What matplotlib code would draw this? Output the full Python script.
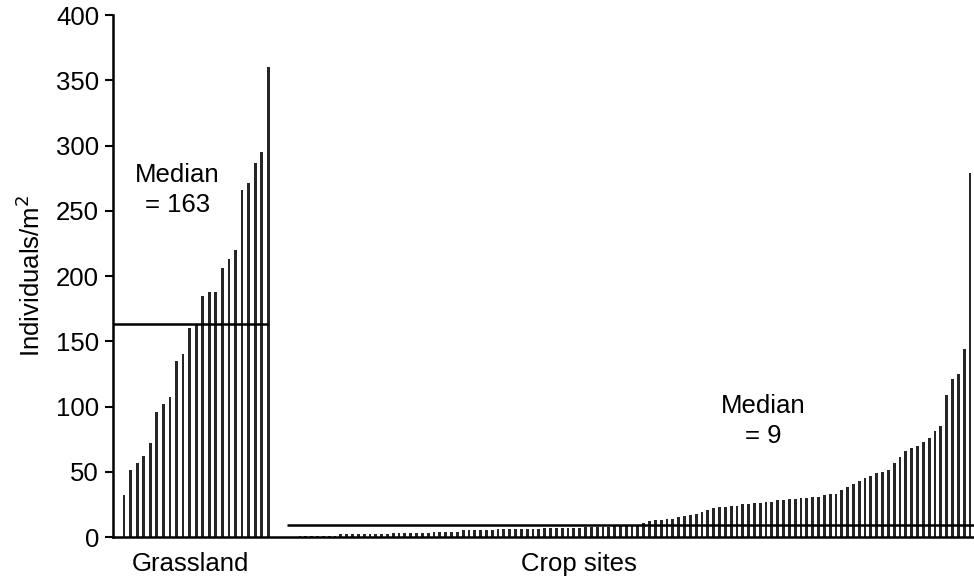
import matplotlib.pyplot as plt
import numpy as np

plt.rcParams["font.family"] = ["Liberation Sans", "DejaVu Sans"]

# individuals per m2, sorted ascending
grassland = [32, 51, 57, 62, 72, 96, 102, 107, 135, 140, 160, 163, 185, 188, 188,
             206, 213, 220, 266, 271, 287, 295, 360]
crop_sites = [1, 1, 1, 1, 1, 1, 1, 2, 2, 2,
              2, 2, 2, 2, 2, 2, 3, 3, 3, 3,
              3, 3, 3, 4, 4, 4, 4, 4, 5, 5,
              5, 5, 5, 5, 6, 6, 6, 6, 6, 6,
              6, 6, 7, 7, 7, 7, 7, 7, 7, 8,
              8, 8, 8, 8, 9, 9, 9, 9, 9, 11,
              12, 13, 13, 14, 14, 15, 16, 17, 18, 19,
              21, 22, 23, 23, 24, 24, 25, 25, 26, 26,
              27, 27, 28, 28, 29, 29, 30, 30, 31, 31,
              32, 33, 33, 36, 38, 41, 43, 45, 47,
              49, 50, 51, 57, 61, 66, 68, 70, 73, 76, 81, 85, 109, 121, 125, 144, 279]
group_labels = ["Grassland", "Crop sites"]
medians = [163, 9]

# layout (x in units of grassland bar spacing)
crop_start = 26.83
crop_step = 0.888
bar_w = 0.43
bar_color = "#262626"

x_grass = np.arange(len(grassland))
x_crop = crop_start + crop_step * np.arange(len(crop_sites))

fig = plt.figure(figsize=(9.74, 5.76), dpi=100)
ax = fig.add_axes([0.116, 0.0677, 0.884, 0.906])

ax.bar(x_grass, grassland, width=bar_w, color=bar_color, linewidth=0)
ax.bar(x_crop, crop_sites, width=bar_w, color=bar_color, linewidth=0)

xmin, xmax = -1.68, 129.57
ax.hlines(medians[0], xmin, x_grass[-1], color="black", lw=1.8)
ax.hlines(medians[1], 24.85, xmax, color="black", lw=1.8)

fs = 18.5
ax.text(8.1, 266, f"Median\n= {medians[0]}", ha="center", va="center",
        fontsize=fs, linespacing=1.3)
ax.text(97.4, 89, f"Median\n= {medians[1]}", ha="center", va="center",
        fontsize=fs, linespacing=1.3)

ax.set_xlim(xmin, xmax)
ax.set_ylim(0, 400)
ax.set_yticks(np.arange(0, 401, 50))
ax.set_xticks([10.06, 69.4])
ax.set_xticklabels(group_labels)
ax.tick_params(axis="x", length=0, pad=11, labelsize=fs)
ax.tick_params(axis="y", direction="out", length=6, width=1.5, pad=4, labelsize=fs)
ax.set_ylabel("Individuals/m$^2$", fontsize=fs, labelpad=8)

for side in ["top", "right"]:
    ax.spines[side].set_visible(False)
ax.spines["left"].set_linewidth(1.8)
ax.spines["bottom"].set_linewidth(1.8)

fig.savefig("out.png", dpi=100)
